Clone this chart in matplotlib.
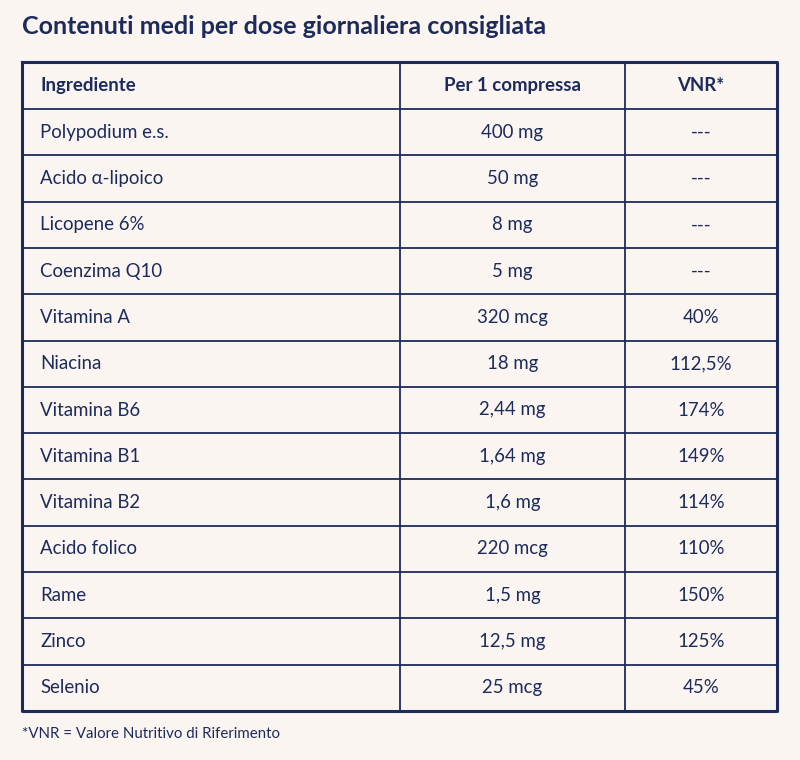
import matplotlib
matplotlib.use("Agg")
import matplotlib.pyplot as plt

title = "Contenuti medi per dose giornaliera consigliata"
headers = ["Ingrediente", "Per 1 compressa", "VNR*"]
ingredients = ["Polypodium e.s.", "Acido α-lipoico", "Licopene 6%", "Coenzima Q10",
               "Vitamina A", "Niacina", "Vitamina B6", "Vitamina B1", "Vitamina B2",
               "Acido folico", "Rame", "Zinco", "Selenio"]
amounts = ["400 mg", "50 mg", "8 mg", "5 mg", "320 mcg", "18 mg", "2,44 mg",
           "1,64 mg", "1,6 mg", "220 mcg", "1,5 mg", "12,5 mg", "25 mcg"]
vnr = ["---", "---", "---", "---", "40%", "112,5%", "174%", "149%", "114%",
       "110%", "150%", "125%", "45%"]
footnote = "*VNR = Valore Nutritivo di Riferimento"

navy = "#1c2b5a"
bg = "#fbf5f2"
plt.rcParams['font.family'] = ['Lato', 'DejaVu Sans']

fig = plt.figure(figsize=(8, 7.6), dpi=100, facecolor=bg)
ax = fig.add_axes([0, 0, 1, 1])
ax.set_xlim(0, 800); ax.set_ylim(760, 0); ax.axis('off')

x0, x1, x2, x3 = 22, 400, 625, 777
ytop, yhead, ybot = 62, 109, 711
n = len(ingredients)
rh = (ybot - yhead) / n
fs = 13.4

ax.text(22, 26, title, fontsize=18, fontweight='bold', color=navy, va='center')

for i in range(n):
    y = yhead + i * rh
    ax.plot([x0, x3], [y, y], color=navy, lw=1.3)
for x in (x1, x2):
    ax.plot([x, x], [ytop, ybot], color=navy, lw=1.3)
ax.plot([x0, x3, x3, x0, x0], [ytop, ytop, ybot, ybot, ytop], color=navy, lw=2.2)

hy = (ytop + yhead) / 2
ax.text(x0 + 18, hy, headers[0], fontsize=fs, fontweight='bold', color=navy, va='center')
ax.text((x1 + x2) / 2, hy, headers[1], fontsize=fs, fontweight='bold', color=navy, va='center', ha='center')
ax.text((x2 + x3) / 2, hy, headers[2], fontsize=fs, fontweight='bold', color=navy, va='center', ha='center')

for i in range(n):
    y = yhead + (i + 0.5) * rh
    ax.text(x0 + 18, y, ingredients[i], fontsize=fs, color=navy, va='center')
    ax.text((x1 + x2) / 2, y, amounts[i], fontsize=fs, color=navy, va='center', ha='center')
    ax.text((x2 + x3) / 2, y, vnr[i], fontsize=fs, color=navy, va='center', ha='center')

ax.text(22, 734, footnote, fontsize=10.8, color=navy, va='center')
fig.savefig("out.png", dpi=100, facecolor=bg)
